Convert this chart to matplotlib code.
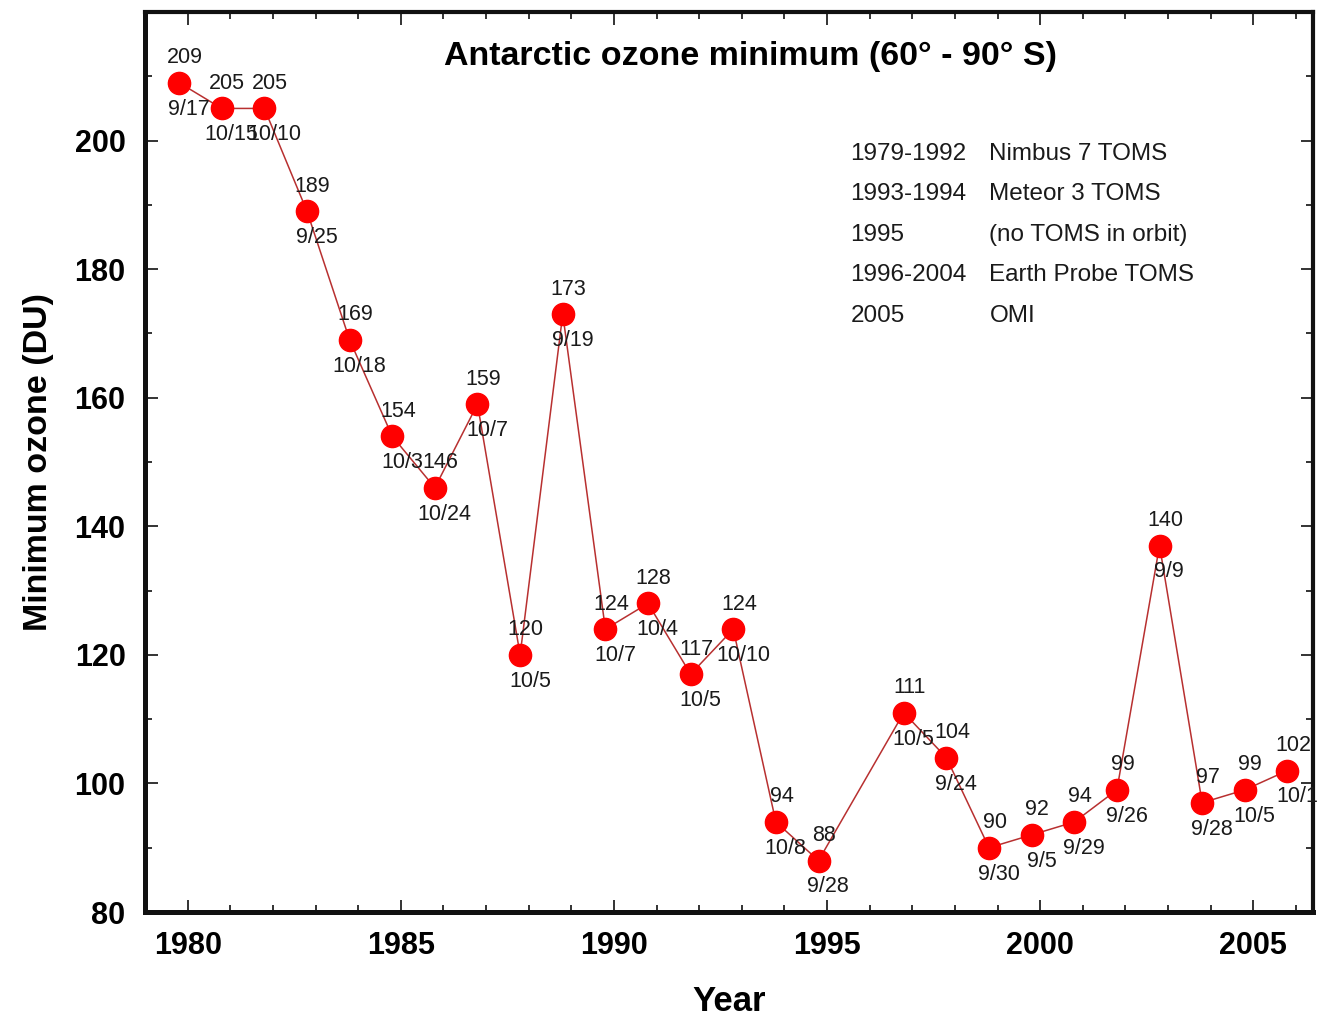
import matplotlib
matplotlib.use("Agg")
import matplotlib.pyplot as plt
from matplotlib.ticker import MultipleLocator

# Antarctic ozone minimum, 60-90 S (TOMS / OMI)
years = [1979, 1980, 1981, 1982, 1983, 1984, 1985, 1986, 1987, 1988, 1989,
         1990, 1991, 1992, 1993, 1994, 1996, 1997, 1998, 1999, 2000, 2001,
         2002, 2003, 2004, 2005]
min_ozone = [209, 205, 205, 189, 169, 154, 146, 159, 120, 173, 124,
             128, 117, 124, 94, 88, 111, 104, 90, 92, 94, 99,
             137, 97, 99, 102]
value_labels = ["209", "205", "205", "189", "169", "154", "146", "159", "120", "173", "124",
                "128", "117", "124", "94", "88", "111", "104", "90", "92", "94", "99",
                "140", "97", "99", "102"]
dates = ["9/17", "10/15", "10/10", "9/25", "10/18", "10/3", "10/24", "10/7", "10/5", "9/19", "10/7",
         "10/4", "10/5", "10/10", "10/8", "9/28", "10/5", "9/24", "9/30", "9/5", "9/29", "9/26",
         "9/9", "9/28", "10/5", "10/1"]

instr_years = ["1979-1992", "1993-1994", "1995", "1996-2004", "2005"]
instr_names = ["Nimbus 7 TOMS", "Meteor 3 TOMS", "(no TOMS in orbit)",
               "Earth Probe TOMS", "OMI"]

RED, LINE, INK = "#ff0000", "#b83030", "#111111"
BOLD = dict(family="Liberation Sans", weight="bold")
PLAIN = dict(family="Liberation Sans", color="#1a1a1a")

fig = plt.figure(figsize=(13.18, 10.16), dpi=100, facecolor="white")
ax = fig.add_axes([145 / 1318, 104 / 1016, 1168 / 1318, 900 / 1016])

# minima fall in Sep/Oct, so points sit late in each year
xs = [y + 0.8 for y in years]
ax.plot(xs, min_ozone, color=LINE, lw=1.1, zorder=2)
ax.plot(xs, min_ozone, "o", color=RED, ms=16, mec=RED, zorder=3)

for x, y, v, d in zip(xs, min_ozone, value_labels, dates):
    ax.annotate(v, (x, y), xytext=(4, 18), textcoords="offset points",
                ha="center", va="center", fontsize=15.5, **PLAIN)
    ax.annotate(d, (x, y), xytext=(7, -19), textcoords="offset points",
                ha="center", va="center", fontsize=15.5, **PLAIN)

ax.set_xlim(1979, 2006.4)
ax.set_ylim(80, 220)
ax.xaxis.set_major_locator(MultipleLocator(5))
ax.xaxis.set_minor_locator(MultipleLocator(1))
ax.yaxis.set_minor_locator(MultipleLocator(10))
ax.set_yticks(range(80, 201, 20))
ax.tick_params(which="both", direction="in", top=True, right=True, color=INK)
ax.tick_params(which="major", length=9, width=1.2, pad=14, labelsize=22)
ax.tick_params(which="minor", length=5, width=1.2)
for lab in ax.get_xticklabels() + ax.get_yticklabels():
    lab.set_fontfamily("Liberation Sans")
    lab.set_fontweight("bold")
for side, s in ax.spines.items():
    s.set_linewidth(3.6 if side in ("left", "bottom") else 3.0)
    s.set_color(INK)

ax.set_xlabel("Year", fontsize=25, labelpad=17, **BOLD)
ax.set_ylabel("Minimum ozone (DU)", fontsize=24.5, labelpad=15, **BOLD)
ax.text(0.518, 0.951, "Antarctic ozone minimum (60\u00b0 - 90\u00b0 S)",
        transform=ax.transAxes, ha="center", va="center", fontsize=24.5, **BOLD)

# instrument table
for i, (yr, nm) in enumerate(zip(instr_years, instr_names)):
    yy = 0.8425 - i * 0.045
    ax.text(0.604, yy, yr, transform=ax.transAxes, va="center", fontsize=17.5, **PLAIN)
    ax.text(0.723, yy, nm, transform=ax.transAxes, va="center", fontsize=17.5, **PLAIN)

fig.savefig("out.png", dpi=100, facecolor="white")
